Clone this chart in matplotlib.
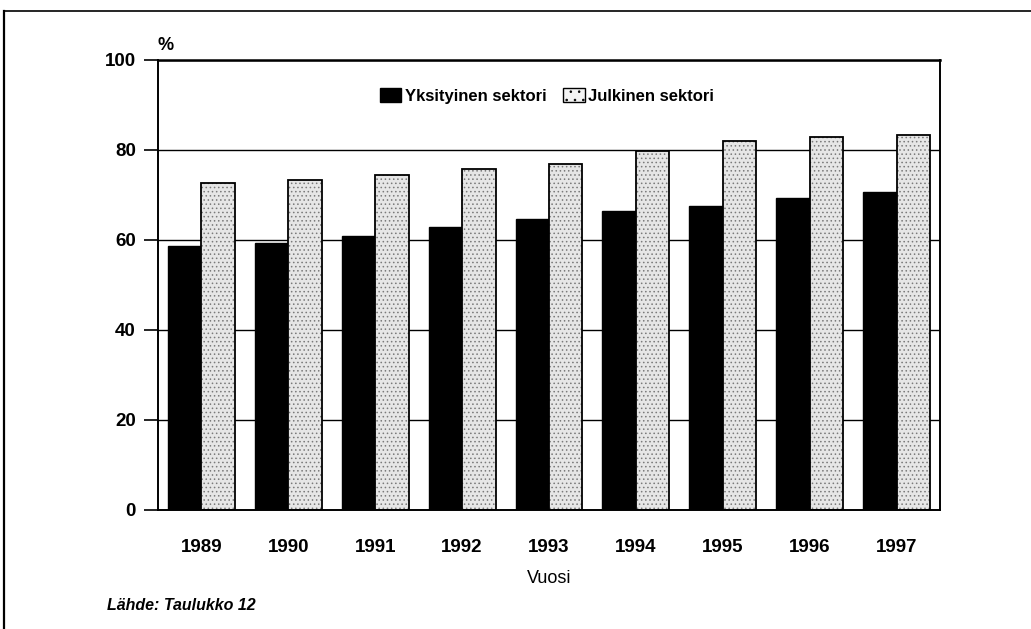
import numpy as np
import matplotlib
matplotlib.use("Agg")
import matplotlib.pyplot as plt
from matplotlib.lines import Line2D
from matplotlib.patches import Patch

plt.rcParams['font.family'] = ['Liberation Sans Narrow', 'Liberation Sans', 'DejaVu Sans']
plt.rcParams['hatch.linewidth'] = 0.6

years = ["1989", "1990", "1991", "1992", "1993", "1994", "1995", "1996", "1997"]
yksityinen = [58.6, 59.4, 61.0, 63.0, 64.7, 66.5, 67.6, 69.4, 70.6]
julkinen = [72.7, 73.4, 74.5, 75.8, 77.0, 79.8, 82.0, 83.0, 83.4]
yticks = [0, 20, 40, 60, 80, 100]

W, H = 1031, 629
fig = plt.figure(figsize=(W / 100, H / 100), dpi=100)
ax = fig.add_axes([158 / W, 1 - 510 / H, (940 - 158) / W, (510 - 60) / H])

x = np.arange(len(years))
bw = 0.385

# gridlines behind bars
for v in yticks[1:]:
    ax.axhline(v, color='black', lw=1.0, zorder=0)

ax.bar(x - bw / 2, yksityinen, bw, color='black', edgecolor='black', lw=1.0, zorder=2)
# stippled fill, then black outline on top
ax.bar(x + bw / 2, julkinen, bw, color='#e6e6e6', edgecolor='#7a7a7a', hatch='....', lw=0, zorder=2)
ax.bar(x + bw / 2, julkinen, bw, fill=False, edgecolor='black', lw=1.3, zorder=3)

ax.set_xlim(-0.5, len(years) - 0.5)
ax.set_ylim(0, 100)
ax.set_yticks(yticks)
ax.set_yticklabels([str(v) for v in yticks], fontsize=13.5, fontweight='bold')
ax.set_xticks(x)
ax.set_xticklabels(years, fontsize=13.5, fontweight='bold')
ax.tick_params(axis='y', direction='out', length=10, width=1.2, pad=6)
ax.tick_params(axis='x', length=0, pad=21)
for s in ['left', 'bottom', 'right', 'top']:
    ax.spines[s].set_linewidth(1.4)
ax.spines['top'].set_linewidth(1.8)

ax.set_xlabel("Vuosi", fontsize=13, labelpad=10)
ax.text(157 / W, 1 - 45 / H, "%", transform=fig.transFigure, fontsize=13,
        fontweight='bold', ha='left', va='center')

handles = [Patch(facecolor='black', edgecolor='black', label='Yksityinen sektori'),
           Patch(facecolor='#f4f4f4', edgecolor='black', hatch='..', label='Julkinen sektori')]
leg = ax.legend(handles=handles, loc='center', bbox_to_anchor=(0.497, 0.92), ncol=2,
                frameon=False, handlelength=1.3, handleheight=0.9,
                handletextpad=0.2, columnspacing=1.0,
                prop={'weight': 'bold', 'size': 12})

fig.text(107 / W, 1 - 605 / H, "Lähde: Taulukko 12", fontsize=11.5,
         fontstyle='italic', fontweight='bold', ha='left', va='center')

# outer frame
fig.add_artist(Line2D([4 / W, 1.0], [1 - 11 / H, 1 - 11 / H], color='black', lw=1.2,
                      transform=fig.transFigure))
fig.add_artist(Line2D([4 / W, 4 / W], [0, 1 - 11 / H], color='black', lw=1.6,
                      transform=fig.transFigure))

fig.savefig("out.png", dpi=100)
